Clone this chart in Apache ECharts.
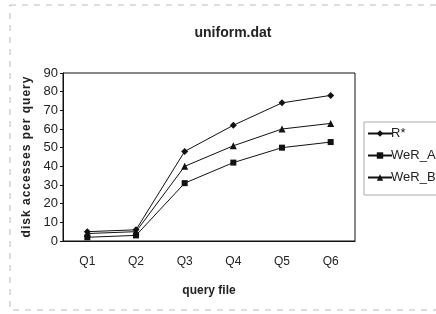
<!DOCTYPE html>
<html>
<head>
<meta charset="utf-8">
<script src="https://cdn.jsdelivr.net/npm/echarts@6/dist/echarts.min.js"></script>
<style>
  html, body { margin: 0; padding: 0; background: #fff; }
  #chart { width: 436px; height: 314px; }
</style>
</head>
<body>
<div id="chart"></div>
<script>
  // data
  var categories = ['Q1', 'Q2', 'Q3', 'Q4', 'Q5', 'Q6'];
  var rStar = [5, 6, 48, 62, 74, 78];
  var werA = [2, 3, 31, 42, 50, 53];
  var werB = [4, 5, 40, 51, 60, 63];
  var yTicks = [0, 10, 20, 30, 40, 50, 60, 70, 80, 90];

  var chart = echarts.init(document.getElementById('chart'));

  function line(name, data, symbol, size) {
    return {
      name: name,
      type: 'line',
      data: data,
      symbol: symbol,
      symbolSize: size,
      lineStyle: { color: '#111', width: 1 },
      itemStyle: { color: '#111' },
      animation: false
    };
  }

  // spread the letters of the y axis name a bit, like the original
  var yName = 'disk accesses per query'.split('').join('\u200A');

  chart.setOption({
    backgroundColor: '#fff',
    textStyle: { fontFamily: 'Liberation Sans, Arial, sans-serif', color: '#222' },
    title: {
      text: 'uniform.dat',
      left: 228,
      textAlign: 'center',
      top: 21,
      textStyle: { fontSize: 14, fontWeight: 'bold', color: '#222' }
    },
    legend: {
      orient: 'vertical',
      left: 364,
      top: 122,
      padding: [5, 10, 11, 3],
      itemGap: 9,
      itemWidth: 24,
      itemHeight: 8,
      borderColor: '#aaa',
      borderWidth: 1,
      textStyle: { fontSize: 13, color: '#222', padding: [0, 0, 0, -6] },
      data: ['R*', 'WeR_A', 'WeR_B']
    },
    grid: { left: 63, right: 81, top: 73, bottom: 73 },
    xAxis: {
      type: 'category',
      data: categories,
      name: 'query file',
      nameLocation: 'middle',
      nameGap: 44,
      nameTextStyle: { fontSize: 12, fontWeight: 'bold', color: '#222' },
      axisLine: { lineStyle: { color: '#111', width: 1 } },
      axisTick: { show: false },
      axisLabel: { fontSize: 12, color: '#222', margin: 15 },
      splitLine: { show: false }
    },
    yAxis: {
      type: 'value',
      min: yTicks[0],
      max: yTicks[yTicks.length - 1],
      interval: 10,
      name: yName,
      nameLocation: 'middle',
      nameGap: 29,
      nameTextStyle: { fontSize: 12, fontWeight: 'bold', color: '#222' },
      axisLine: { show: true, lineStyle: { color: '#111', width: 1 } },
      axisTick: { show: true, inside: false, length: 3, lineStyle: { color: '#111' } },
      axisLabel: { fontSize: 13, color: '#222', margin: 5 },
      splitLine: { show: false }
    },
    graphic: [
      {
        type: 'rect',
        shape: { x: 63, y: 73, width: 292, height: 168 },
        style: { fill: 'none', stroke: '#111', lineWidth: 1 },
        silent: true
      },
      {
        type: 'rect',
        shape: { x: 10, y: 5, width: 440, height: 305 },
        style: { fill: 'none', stroke: '#bbb', lineWidth: 1, lineDash: [6, 6] },
        silent: true
      }
    ],
    series: [
      line('R*', rStar, 'diamond', 7),
      line('WeR_A', werA, 'rect', 6),
      line('WeR_B', werB, 'triangle', 7)
    ]
  });
</script>
</body>
</html>
